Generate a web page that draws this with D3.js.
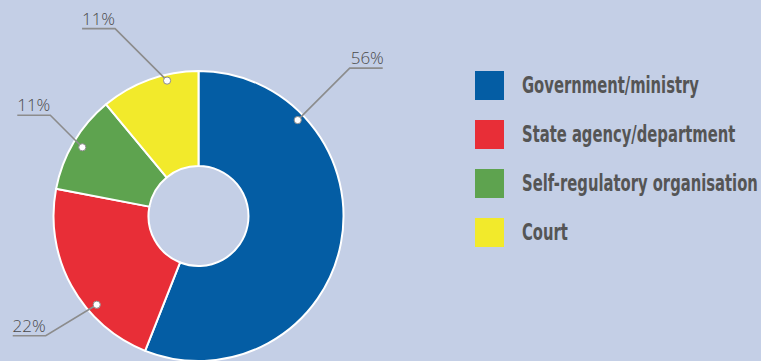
<!DOCTYPE html>
<html>
<head>
<meta charset="utf-8">
<script src="https://cdn.jsdelivr.net/npm/d3@7"></script>
<style>
  html, body { margin: 0; padding: 0; background: #c4cfe6; }
  svg { display: block; }
</style>
</head>
<body>
<svg id="chart" width="761" height="361"></svg>
<script>
// Categories and their shares (percent)
const categories = ["Government/ministry", "State agency/department", "Self-regulatory organisation", "Court"];
const shares = [56, 22, 11, 11];
const colors = ["#045da4", "#e82e37", "#5ea34f", "#f2ea2b"];

// Leader-line placement per slice: where along the slice the dot sits,
// the elbow direction and which side the label text sits on
const leaderLayout = [
  { frac: 0.228, r: 138, dx: 52, dy: -52, side: "right" },
  { frac: 0.345, r: 135, dx: -51, dy: 31, side: "left" },
  { frac: 0.50, r: 135, dx: -32, dy: -32, side: "left" },
  { frac: 0.67, r: 139, dx: -52, dy: -52, side: "left" }
];

const svg = d3.select("#chart");
const cx = 198.5, cy = 216, outerR = 145, innerR = 50;

const data = categories.map((c, i) => ({ name: c, value: shares[i], color: colors[i] }));

const pie = d3.pie().value(d => d.value).sort(null);
const arcs = pie(data);
const arc = d3.arc().innerRadius(innerR).outerRadius(outerR);

const g = svg.append("g").attr("transform", `translate(${cx},${cy})`);

g.selectAll("path.slice")
  .data(arcs)
  .join("path")
  .attr("class", "slice")
  .attr("d", arc)
  .attr("fill", d => d.data.color)
  .attr("stroke", "#ffffff")
  .attr("stroke-width", 2)
  .attr("stroke-linejoin", "round");

// Leader lines with value labels
const lineLen = 33;
arcs.forEach((a, i) => {
  const L = leaderLayout[i];
  const ang = a.startAngle + (a.endAngle - a.startAngle) * L.frac;
  const px = Math.sin(ang) * L.r, py = -Math.cos(ang) * L.r;
  const ex = px + L.dx, ey = py + L.dy;
  const hx = L.side === "right" ? ex + lineLen : ex - lineLen;
  g.append("polyline")
    .attr("points", `${px},${py} ${ex},${ey} ${hx},${ey}`)
    .attr("fill", "none")
    .attr("stroke", "#8c8c8c")
    .attr("stroke-width", 1.6);
  g.append("circle")
    .attr("cx", px).attr("cy", py).attr("r", 3.6)
    .attr("fill", "#ffffff")
    .attr("stroke", "#8c8c8c")
    .attr("stroke-width", 1);
  g.append("text")
    .attr("x", L.side === "right" ? ex + 1 : ex)
    .attr("y", ey - 4)
    .attr("text-anchor", L.side === "right" ? "start" : "end")
    .attr("font-family", "'Open Sans', 'Noto Sans', sans-serif")
    .attr("font-weight", 300)
    .attr("font-size", 17)
    .attr("fill", "#4a4a4a")
    .text(a.data.value + "%");
});

// Legend
const legendY = d3.scaleBand().domain(categories).range([71, 267]).paddingInner(0);
const legend = svg.append("g");
const items = legend.selectAll("g.item")
  .data(data)
  .join("g")
  .attr("class", "item")
  .attr("transform", d => `translate(475,${legendY(d.name)})`);
items.append("rect")
  .attr("width", 29).attr("height", 29)
  .attr("fill", d => d.color);
const labels = items.append("text")
  .attr("font-family", "'DejaVu Sans Condensed', 'DejaVu Sans', sans-serif")
  .attr("font-stretch", "condensed")
  .attr("font-weight", 700)
  .attr("font-size", 22.5)
  .attr("fill", "#555555")
  .text(d => d.name);

// Condense the legend text horizontally so the longest entry spans 236px
const widest = d3.max(labels.nodes(), n => n.getComputedTextLength());
const sx = 236 / widest;
labels.attr("transform", `translate(47,21.5) scale(${sx},1)`);
</script>
</body>
</html>
